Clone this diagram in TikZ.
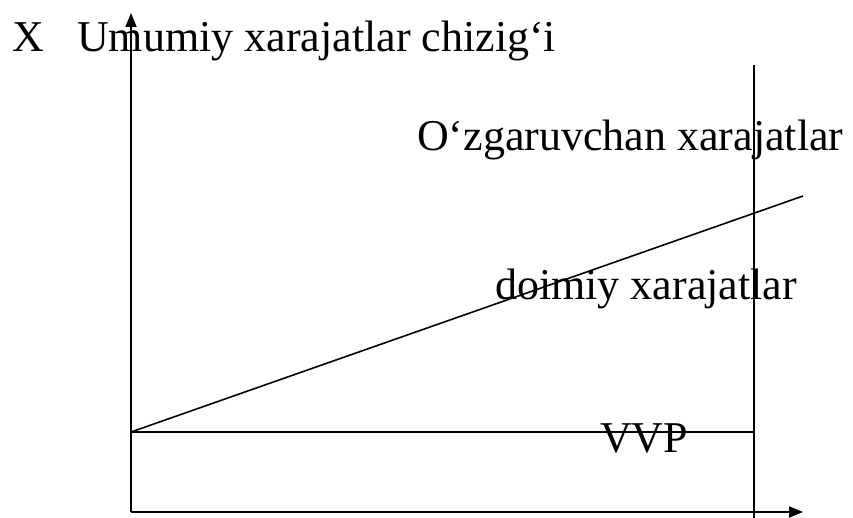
\documentclass[tikz,border=0pt]{standalone}
\usepackage{fontspec}
\setmainfont{Liberation Serif}
\usetikzlibrary{arrows.meta}
\begin{document}
\begin{tikzpicture}[x=1pt,y=-1pt,
  lbl/.style={anchor=base west,inner sep=0pt,font=\fontsize{44}{50}\selectfont},
  ln/.style={line width=1.6pt},
  ax/.style={line width=2pt,-{Triangle[length=14pt,width=11pt]}}]
\useasboundingbox (0,0) rectangle (853,518);
\coordinate (O) at (131,512);
\coordinate (ytop) at (131,13);
\coordinate (xend) at (803,512);
\coordinate (A) at (131,432);
\coordinate (B) at (754,432);
\coordinate (C) at (803,196);
\coordinate (vtop) at (754,65);
\coordinate (vbot) at (754,518);
\draw[ax] (O) -- (ytop);
\draw[ax] (O) -- (xend);
\draw[ln] (A) -- (B);
\draw[ln] (A) -- (C);
\draw[ln] (vtop) -- (vbot);
\node[lbl] (x) at (12,52) {X};
\node[lbl] (t1) at (77,52) {Umumiy xarajatlar chizig‘i};
\node[lbl] (t2) at (417,151) {O‘zgaruvchan xarajatlar};
\node[lbl] (t3) at (495,300) {doimiy xarajatlar};
\node[lbl] (t4) at (600,452) {VVP};
\end{tikzpicture}
\end{document}
